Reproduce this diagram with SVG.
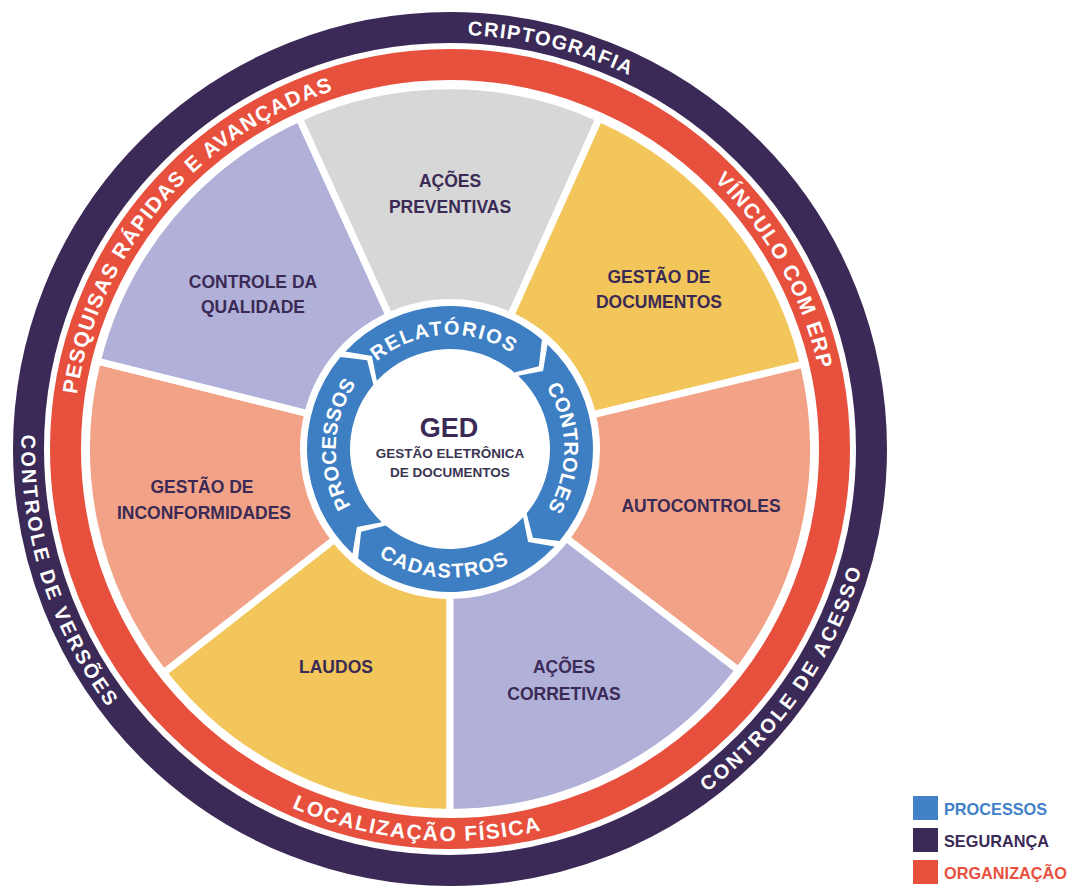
<svg xmlns="http://www.w3.org/2000/svg" width="1070" height="887" viewBox="0 0 1070 887">
<style>
text{font-family:"Liberation Sans",Arial,sans-serif;font-weight:bold}
.lbl{font-size:17.5px;fill:#3a2a55;text-anchor:middle}
.ring{fill:#fff;text-anchor:middle}
.seg{stroke:#fff;stroke-width:7}
.gold{fill:#f2c65a}
.salmon{fill:#f2a387}
.lav{fill:#b1b0d9}
.gray{fill:#d7d7d7}
.blue{fill:#3e7fc4}
.dk{font-size:20px}
.rd{font-size:21px}
.bl{font-size:20px}
.leg{font-size:16.3px}
</style>
<defs>
<path id="pdcw" d="M -414.3 0 A 414.3 414.3 0 0 1 414.3 0"/>
<path id="pdccw" d="M -428.7 0 A 428.7 428.7 0 0 0 428.7 0"/>
<path id="prcw" d="M -377 0 A 377 377 0 0 1 377 0"/>
<path id="prccw" d="M -392 0 A 392 392 0 0 0 392 0"/>
<path id="pbcw" d="M -114.3 0 A 114.3 114.3 0 0 1 114.3 0"/>
<path id="pbccw" d="M -128.7 0 A 128.7 128.7 0 0 0 128.7 0"/>
<path id="arrowseg" class="blue" d="M -104.58 -97.53 A 143 143 0 0 1 91.92 -109.54 L 88.86 -82.86 L 64.28 -76.6 A 100 100 0 0 0 -73.14 -68.2 L -78.1 -93.07 Z"/>
</defs>
<rect width="1070" height="887" fill="#fff"/>

<g id="ring-seguranca">
<circle cx="450" cy="449" r="421.5" fill="none" stroke="#3b2a57" stroke-width="31"/>
<text class="ring dk" transform="translate(450 449) rotate(14.1)" letter-spacing="1.4"><textPath href="#pdcw" startOffset="50%">CRIPTOGRAFIA</textPath></text>
<text class="ring dk" transform="translate(450 449) rotate(-55.4)" letter-spacing="2.4"><textPath href="#pdccw" startOffset="50%">CONTROLE DE ACESSO</textPath></text>
<text class="ring dk" transform="translate(450 449) rotate(72.3)" letter-spacing="2.4"><textPath href="#pdccw" startOffset="50%">CONTROLE DE VERSÕES</textPath></text>
</g>

<g id="ring-organizacao">
<circle cx="450" cy="449" r="384.5" fill="none" stroke="#e8503e" stroke-width="31"/>
<text class="ring rd" transform="translate(450 449) rotate(-49.8)" letter-spacing="1.4"><textPath href="#prcw" startOffset="50%">PESQUISAS RÁPIDAS E AVANÇADAS</textPath></text>
<text class="ring rd" transform="translate(450 449) rotate(61.25)" letter-spacing="1.4"><textPath href="#prcw" startOffset="50%">VÍNCULO COM ERP</textPath></text>
<text class="ring rd" transform="translate(450 449) rotate(5.1)" letter-spacing="1.6"><textPath href="#prccw" startOffset="50%">LOCALIZAÇÃO FÍSICA</textPath></text>
</g>

<g id="laudos">
<path class="seg gold" d="M 450 812.5 A 363.5 363.5 0 0 1 163.56 672.81 L 334.56 539.2 A 146.5 146.5 0 0 0 450 595.5 Z"/>
<text class="lbl" x="336" y="673">LAUDOS</text>
</g>
<g id="gestao-inconformidades">
<path class="seg salmon" d="M 163.56 672.81 A 363.5 363.5 0 0 1 97.3 361.07 L 307.85 413.56 A 146.5 146.5 0 0 0 334.56 539.2 Z"/>
<text class="lbl" x="202" y="493">GESTÃO DE</text>
<text class="lbl" x="204" y="519">INCONFORMIDADES</text>
</g>
<g id="controle-qualidade">
<path class="seg lav" d="M 97.3 361.07 A 363.5 363.5 0 0 1 299.26 118.21 L 389.25 315.68 A 146.5 146.5 0 0 0 307.85 413.56 Z"/>
<text class="lbl" x="253" y="288">CONTROLE DA</text>
<text class="lbl" x="253" y="313">QUALIDADE</text>
</g>
<g id="acoes-preventivas">
<path class="seg gray" d="M 299.26 118.21 A 363.5 363.5 0 0 1 599.26 118.21 L 510.75 315.68 A 146.5 146.5 0 0 0 389.25 315.68 Z"/>
<text class="lbl" x="450" y="187">AÇÕES</text>
<text class="lbl" x="450" y="213">PREVENTIVAS</text>
</g>
<g id="gestao-documentos">
<path class="seg gold" d="M 599.26 118.21 A 363.5 363.5 0 0 1 803.47 364.16 L 592.46 414.81 A 146.5 146.5 0 0 0 510.75 315.68 Z"/>
<text class="lbl" x="659" y="283">GESTÃO DE</text>
<text class="lbl" x="659" y="308">DOCUMENTOS</text>
</g>
<g id="autocontroles">
<path class="seg salmon" d="M 803.47 364.16 A 363.5 363.5 0 0 1 738.4 670.3 L 566.23 538.19 A 146.5 146.5 0 0 0 592.46 414.81 Z"/>
<text class="lbl" x="701" y="512">AUTOCONTROLES</text>
</g>
<g id="acoes-corretivas">
<path class="seg lav" d="M 738.4 670.3 A 363.5 363.5 0 0 1 450 812.5 L 450 595.5 A 146.5 146.5 0 0 0 566.23 538.19 Z"/>
<text class="lbl" x="564" y="673">AÇÕES</text>
<text class="lbl" x="564" y="700">CORRETIVAS</text>
</g>

<g id="ring-processos">
<g id="relatorios">
<use href="#arrowseg" transform="translate(450 449)"/>
<text class="ring bl" transform="translate(450 449) rotate(-3.2)" letter-spacing="1.7"><textPath href="#pbcw" startOffset="50%">RELATÓRIOS</textPath></text>
</g>
<g id="controles">
<use href="#arrowseg" transform="translate(450 449) rotate(90)"/>
<text class="ring bl" transform="translate(450 449) rotate(89.4)" letter-spacing="0.3"><textPath href="#pbcw" startOffset="50%">CONTROLES</textPath></text>
</g>
<g id="cadastros">
<use href="#arrowseg" transform="translate(450 449) rotate(180)"/>
<text class="ring bl" transform="translate(450 449) rotate(2.9)" letter-spacing="1.3"><textPath href="#pbccw" startOffset="50%">CADASTROS</textPath></text>
</g>
<g id="processos">
<use href="#arrowseg" transform="translate(450 449) rotate(270)"/>
<text class="ring bl" transform="translate(450 449) rotate(-87.5)" letter-spacing="0.3"><textPath href="#pbcw" startOffset="50%">PROCESSOS</textPath></text>
</g>
</g>

<g id="ged">
<text x="449" y="437" font-size="27" fill="#3a2a55" text-anchor="middle">GED</text>
<text x="450" y="458" font-size="13.5" fill="#3b3453" text-anchor="middle">GESTÃO ELETRÔNICA</text>
<text x="450" y="477" font-size="13.5" fill="#3b3453" text-anchor="middle">DE DOCUMENTOS</text>
</g>

<g id="connectors"></g>

<g id="legend">
<rect x="913" y="796" width="25" height="24" fill="#4181c8"/>
<text class="leg" x="944" y="815" fill="#4181c8">PROCESSOS</text>
<rect x="913" y="828" width="25" height="24" fill="#3b2a57"/>
<text class="leg" x="944" y="847" fill="#3b2a57">SEGURANÇA</text>
<rect x="913" y="860" width="25" height="24" fill="#e8503e"/>
<text class="leg" x="944" y="879" fill="#e8503e">ORGANIZAÇÃO</text>
</g>
</svg>
